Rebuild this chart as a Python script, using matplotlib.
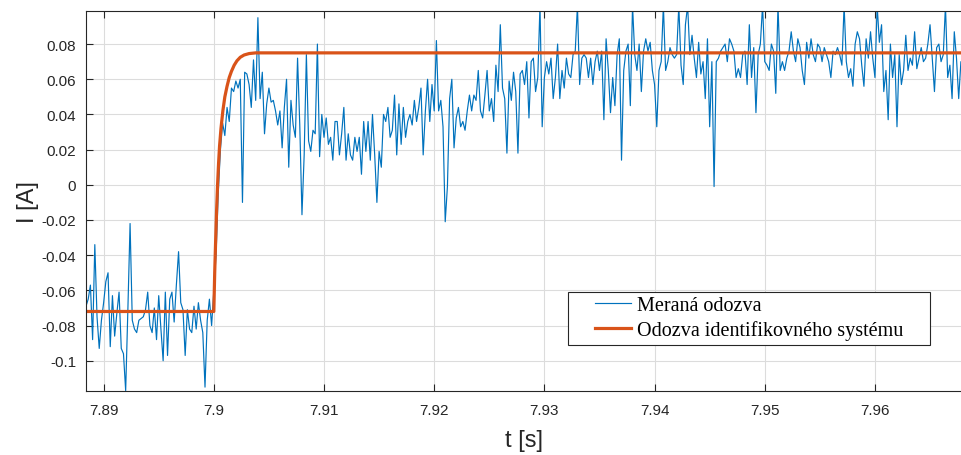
import numpy as np
import matplotlib
matplotlib.use("Agg")
import matplotlib.pyplot as plt
from matplotlib.patches import Rectangle
from matplotlib.ticker import FixedLocator

t0 = 7.8884
dt = 0.0002
i_meas_mA = [
    -69, -65, -57, -88, -34, -75, -93, -77, -67, -55,
    -50, -92, -63, -86, -73, -61, -93, -96, -117, -71,
    -22, -77, -82, -84, -77, -76, -75, -71, -61, -80,
    -84, -70, -88, -63, -82, -100, -61, -97, -65, -61,
    -78, -57, -38, -67, -71, -97, -71, -82, -84, -69,
    -82, -67, -77, -84, -115, -77, -65, -80, -60, -40,
    -5, 20, 35, 28, 44, 36, 55, 53, 59, 55,
    60, -10, 64, 63, 57, 44, 71, 48, 95, 49,
    64, 29, 46, 55, 47, 48, 42, 34, 42, 21,
    44, 60, 10, 48, 34, 27, 72, 34, -17, 17,
    74, 25, 19, 31, 29, 80, 16, 40, 27, 38,
    23, 27, 14, 36, 36, 17, 29, 44, 14, 29,
    17, 14, 27, 19, 27, 6, 36, 19, 36, 14,
    40, 17, -10, 19, 10, 40, 36, 44, 27, 31,
    51, 17, 46, 23, 44, 27, 36, 40, 34, 48,
    36, 44, 55, 17, 42, 60, 36, 57, 42, 82,
    42, 48, 33, -21, -1, 49, 60, 21, 38, 44,
    33, 36, 31, 42, 51, 42, 51, 48, 65, 42,
    38, 51, 65, 42, 49, 36, 68, 53, 91, 55,
    49, 18, 59, 48, 64, 53, 18, 63, 65, 57,
    70, 38, 70, 72, 53, 61, 102, 33, 61, 70,
    63, 72, 49, 61, 80, 49, 65, 55, 72, 63,
    61, 74, 76, 102, 57, 72, 74, 72, 61, 72,
    57, 70, 76, 65, 76, 37, 83, 65, 41, 61,
    45, 74, 83, 14, 65, 76, 80, 45, 102, 74,
    65, 80, 53, 76, 83, 76, 81, 65, 57, 33,
    65, 70, 102, 65, 70, 78, 74, 72, 74, 102,
    68, 57, 91, 102, 74, 85, 72, 61, 81, 63,
    70, 49, 83, 33, 70, -1, 70, 72, 76, 78,
    80, 70, 83, 80, 76, 61, 66, 61, 74, 76,
    57, 91, 61, 78, 41, 74, 80, 102, 70, 68,
    65, 80, 76, 52, 102, 65, 70, 65, 72, 76,
    87, 76, 70, 83, 78, 65, 57, 81, 72, 83,
    74, 70, 80, 78, 70, 78, 74, 70, 61, 76,
    74, 78, 74, 68, 102, 70, 61, 66, 56, 80,
    87, 83, 68, 56, 83, 72, 87, 72, 61, 102,
    81, 91, 53, 65, 37, 80, 61, 74, 33, 74,
    57, 65, 85, 65, 72, 68, 87, 66, 72, 78,
    70, 72, 80, 91, 72, 53, 78, 80, 70, 74,
    102, 61, 68, 49, 87, 72, 49, 70, 65,
]

# identified model response (breakpoints, mA)
t_model = [7.8884, 7.9000, 7.90008, 7.90016, 7.90025, 7.90034, 7.90043,
           7.90052, 7.90065, 7.90082, 7.90100, 7.90120, 7.90140, 7.90160,
           7.90185, 7.90210, 7.90240, 7.90275, 7.90320, 7.90380, 7.9680]
i_model_mA = [-72, -72, -50, -33, -15, 0, 12,
              22, 32, 42, 50, 56, 61, 64.5,
              68, 70.5, 72.5, 73.8, 74.6, 75, 75]

x_ticks = [7.89, 7.90, 7.91, 7.92, 7.93, 7.94, 7.95, 7.96]
x_labels = ['7.89', '7.9', '7.91', '7.92', '7.93', '7.94', '7.95', '7.96']
y_ticks = [-0.1, -0.08, -0.06, -0.04, -0.02, 0, 0.02, 0.04, 0.06, 0.08]
y_labels = ['-0.1', '-0.08', '-0.06', '-0.04', '-0.02', '0', '0.02', '0.04', '0.06', '0.08']

t_meas = t0 + dt * np.arange(len(i_meas_mA))
i_meas = np.array(i_meas_mA) / 1000.0
i_model = np.array(i_model_mA) / 1000.0

fig = plt.figure(figsize=(9.61, 4.56), dpi=100)
ax = fig.add_axes([86 / 961, 1 - 392 / 456, 876 / 961, 380 / 456])

ax.plot(t_meas, i_meas, color='#0072BD', linewidth=0.85, label='Meraná odozva')
ax.plot(t_model, i_model, color='#D95319', linewidth=2.3, label='Odozva identifikovného systému')

ax.set_xlim(7.8884, 7.9679)
ax.set_ylim(-0.1172, 0.0988)

tick_font = ['Liberation Sans Narrow', 'Liberation Sans', 'DejaVu Sans']
ax.xaxis.set_major_locator(FixedLocator(x_ticks))
ax.yaxis.set_major_locator(FixedLocator(y_ticks))
ax.set_xticklabels(x_labels, family=tick_font, fontsize=11, color='#262626')
ax.set_yticklabels(y_labels, family=tick_font, fontsize=11, color='#262626')
ax.tick_params(direction='in', length=5, width=0.8, color='#262626', top=True)
ax.tick_params(axis='x', pad=9)
ax.tick_params(axis='y', pad=7)

ax.grid(True, color='#DCDCDC', linewidth=0.8)
ax.set_axisbelow(True)
for side in ['left', 'bottom', 'top']:
    ax.spines[side].set_color('#262626')
    ax.spines[side].set_linewidth(0.8)
ax.spines['right'].set_visible(False)

ax.set_xlabel('t [s]', family=tick_font, fontsize=17, color='#262626', labelpad=8)
ax.set_ylabel('I [A]', family=tick_font, fontsize=17, color='#262626', labelpad=2)

# legend box drawn by hand, entries placed inside it
box = Rectangle((0.5497, 0.121), 0.4137, 0.1395, transform=ax.transAxes,
                facecolor='white', edgecolor='#262626', linewidth=0.8, zorder=5)
ax.add_patch(box)
leg = ax.legend(loc='center left', bbox_to_anchor=(0.5806, 0.191),
                prop={'family': 'Liberation Serif', 'size': 14.5},
                frameon=False, handlelength=1.8, handletextpad=0.3,
                borderpad=0, labelspacing=0.25, borderaxespad=0)
leg.set_zorder(6)

fig.savefig('out.png', dpi=100)
